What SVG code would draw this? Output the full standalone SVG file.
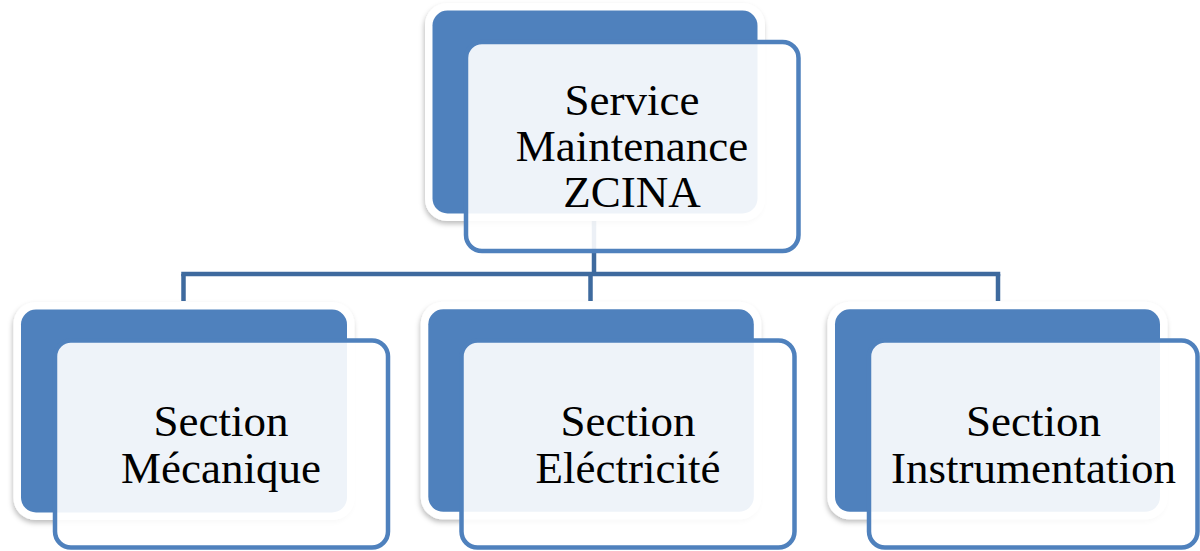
<svg xmlns="http://www.w3.org/2000/svg" width="1200" height="551" viewBox="0 0 1200 551">
<defs>
<filter id="sh" x="-10%" y="-10%" width="120%" height="130%">
<feDropShadow dx="-1" dy="3" stdDeviation="2.5" flood-color="#000" flood-opacity="0.25"/>
</filter>
</defs>
<style>
.bord{fill:#fff;filter:url(#sh)}
.back{fill:#4f81bd}
.front{fill:#fff;fill-opacity:0.9;stroke:#4f81bd;stroke-width:4.5}
.conn{stroke:#3e6a9e;stroke-width:4.5;fill:none}
.lbl{font-family:"Liberation Serif","Times New Roman",serif;font-size:45px;fill:#000;text-anchor:middle}
</style>
<rect width="1200" height="551" fill="#fff"/>
<g id="connectors">
<line class="conn" x1="594" y1="213" x2="594" y2="274"/>
<line class="conn" x1="181.25" y1="274" x2="1000.25" y2="274"/>
<line class="conn" x1="183.5" y1="274" x2="183.5" y2="301"/>
<line class="conn" x1="590.5" y1="274" x2="590.5" y2="301"/>
<line class="conn" x1="998" y1="274" x2="998" y2="301"/>
</g>
<g id="node-service">
<rect class="bord" x="425" y="3" width="340" height="218" rx="22"/>
<rect class="back" x="432.5" y="10.5" width="325" height="203" rx="15"/>
<rect class="front" x="466" y="42" width="332.5" height="209" rx="16"/>
<text class="lbl" x="632" y="115">Service</text>
<text class="lbl" x="632" y="161">Maintenance</text>
<text class="lbl" x="632" y="207">ZCINA</text>
</g>
<g id="node-mecanique">
<rect class="bord" x="13.5" y="302" width="341" height="218" rx="22"/>
<rect class="back" x="21" y="309.5" width="326" height="203" rx="15"/>
<rect class="front" x="55" y="340.5" width="333" height="207" rx="16"/>
<text class="lbl" x="221" y="436">Section</text>
<text class="lbl" x="221" y="483">Mécanique</text>
</g>
<g id="node-electricite">
<rect class="bord" x="420.8" y="301.8" width="340.5" height="217.5" rx="22"/>
<rect class="back" x="428.3" y="309.3" width="325.5" height="202.5" rx="15"/>
<rect class="front" x="461.5" y="340.5" width="333" height="207" rx="16"/>
<text class="lbl" x="628" y="436">Section</text>
<text class="lbl" x="628" y="483">Eléctricité</text>
</g>
<g id="node-instrumentation">
<rect class="bord" x="827.5" y="301.8" width="340" height="217.5" rx="22"/>
<rect class="back" x="835" y="309.3" width="325" height="202.5" rx="15"/>
<rect class="front" x="869" y="340.5" width="328.5" height="207" rx="16"/>
<text class="lbl" x="1033.5" y="436">Section</text>
<text class="lbl" x="1033.5" y="483">Instrumentation</text>
</g>
</svg>
